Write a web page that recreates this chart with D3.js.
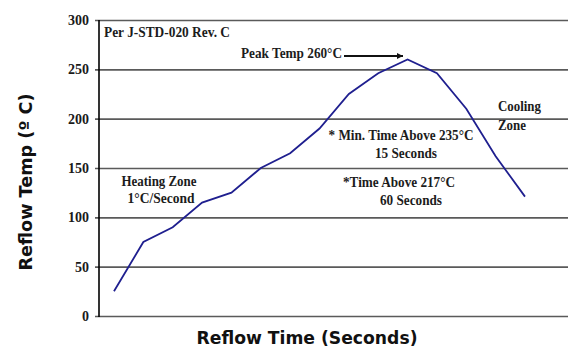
<!DOCTYPE html>
<html><head><meta charset="utf-8">
<script src="https://cdn.jsdelivr.net/npm/d3@7"></script>
<style>body{margin:0;background:#fff}svg{display:block}</style>
</head><body>
<script>
const timeSteps = [0,1,2,3,4,5,6,7,8,9,10,11,12,13,14];
const temps = [25,75,90,115,125,150,165,190,225,246,260,246,210,162,121];
const yTicks = [0,50,100,150,200,250,300];
const xTitle = "Reflow Time (Seconds)";
const yTitle = "Reflow Temp (º C)";

const W=568,H=347;
const svg=d3.select("body").append("svg").attr("width",W).attr("height",H);
const pL=99,pR=568,pT=20,pB=316;
const x=d3.scaleLinear().domain([0,14]).range([114,525]);
const y=d3.scaleLinear().domain([0,300]).range([pB,pT]);

const gAxis=svg.append("g").attr("transform",`translate(${pL},0)`)
 .call(d3.axisLeft(y).tickValues(yTicks).tickSize(-(pR-pL)).tickPadding(10).tickFormat(d3.format("d")));
gAxis.select(".domain").remove();
gAxis.selectAll(".tick line").attr("stroke","#5a5a5a").attr("stroke-width",1.6).attr("x1",-4);
gAxis.selectAll(".tick text").attr("font-family","Liberation Serif").attr("font-weight","bold")
 .attr("font-size",14).attr("fill","#1a1a1a").attr("x",-10)
 .attr("textLength",d=>d<10?7:d<100?14:21).attr("lengthAdjust","spacingAndGlyphs");
svg.append("line").attr("x1",pL).attr("x2",pL).attr("y1",pT).attr("y2",pB+1)
 .attr("stroke","#000").attr("stroke-width",1.6);

svg.append("path").datum(timeSteps.map((t,i)=>[t,temps[i]]))
 .attr("fill","none").attr("stroke","#1f1f8f").attr("stroke-width",1.8)
 .attr("d",d3.line().x(d=>x(d[0])).y(d=>y(d[1])));

const ann=[
 {t:"Per J-STD-020 Rev. C",x:104,y:37,a:"start",len:126},
 {t:"Peak Temp 260°C",x:241,y:58,a:"start",len:101},
 {t:"Heating Zone",x:159,y:186,a:"middle",len:75},
 {t:"1°C/Second",x:161,y:203,a:"middle",len:67},
 {t:"* Min. Time Above 235°C",x:401,y:140,a:"middle",len:145},
 {t:"15 Seconds",x:406,y:158,a:"middle",len:62},
 {t:"*Time Above 217°C",x:399,y:187,a:"middle",len:112},
 {t:"60 Seconds",x:411,y:205,a:"middle",len:62},
 {t:"Cooling",x:498,y:111,a:"start",len:43},
 {t:"Zone",x:498,y:130,a:"start",len:28}
];
svg.append("g").selectAll("text").data(ann).join("text")
 .attr("x",d=>d.x).attr("y",d=>d.y).attr("text-anchor",d=>d.a)
 .attr("font-family","Liberation Serif").attr("font-weight","bold").attr("font-size",14)
 .attr("fill","#1c1c1c").attr("textLength",d=>d.len).attr("lengthAdjust","spacingAndGlyphs")
 .text(d=>d.t);

svg.append("defs").append("marker").attr("id","ah").attr("viewBox","0 0 10 10")
 .attr("refX",10).attr("refY",5).attr("markerWidth",9).attr("markerHeight",6)
 .attr("markerUnits","userSpaceOnUse").attr("orient","auto")
 .append("path").attr("d","M0,0L10,5L0,10z").attr("fill","#111");
svg.append("line").attr("x1",344).attr("x2",403).attr("y1",56).attr("y2",56)
 .attr("stroke","#111").attr("stroke-width",1.8).attr("marker-end","url(#ah)");

svg.append("text").attr("x",307).attr("y",344).attr("text-anchor","middle")
 .attr("font-family","DejaVu Sans").attr("font-weight","bold").attr("font-size",17)
 .attr("fill","#111").attr("textLength",221).attr("lengthAdjust","spacingAndGlyphs").text(xTitle);
svg.append("text").attr("transform","translate(32,182) rotate(-90)").attr("text-anchor","middle")
 .attr("font-family","DejaVu Sans").attr("font-weight","bold").attr("font-size",17)
 .attr("fill","#111").attr("textLength",177).attr("lengthAdjust","spacingAndGlyphs").text(yTitle);
</script>
</body></html>
